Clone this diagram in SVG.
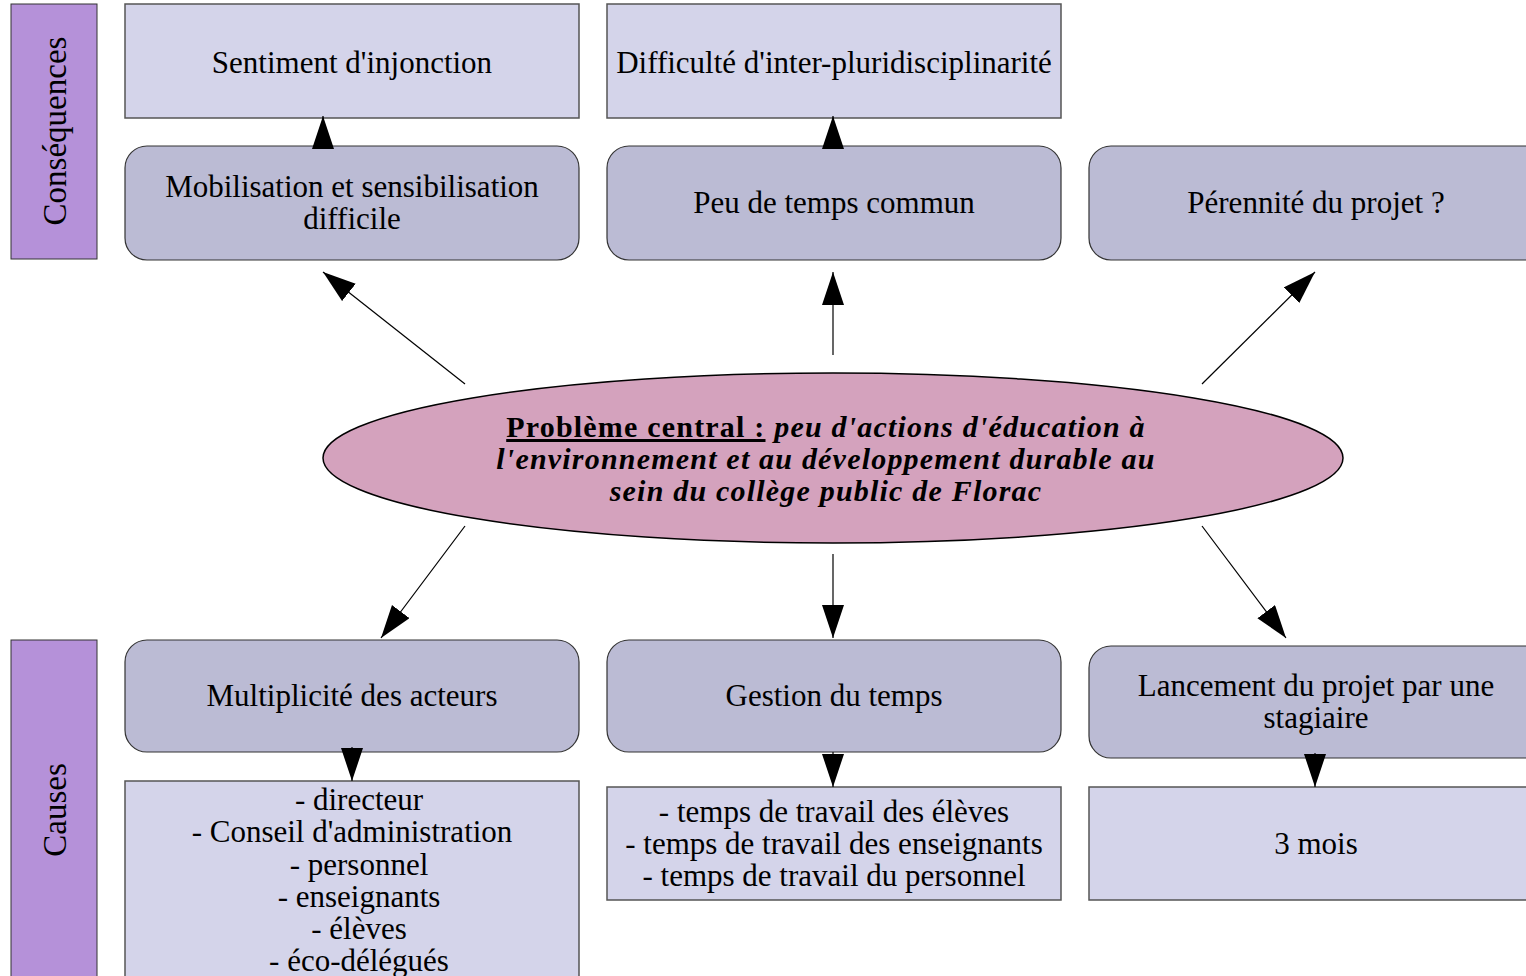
<svg xmlns="http://www.w3.org/2000/svg" width="1526" height="976" viewBox="0 0 1526 976">
<style>
text{font-family:"Liberation Serif","DejaVu Serif",serif;font-size:31px;fill:#000;text-anchor:middle}
.lbl{fill:#b591d9;stroke:#333;stroke-width:1}
.lt{font-size:33px}
.plain{fill:#d4d4ea;stroke:#555;stroke-width:1.5}
.round{fill:#bbbbd4;stroke:#333;stroke-width:1.2}
.cen{fill:#d4a2bd;stroke:#000;stroke-width:1.5}
.ct{font-weight:bold;font-style:italic;font-size:30px;letter-spacing:1.2px}
.conn line{stroke:#000;stroke-width:1.2;marker-end:url(#ah)}
</style>
<defs>
<marker id="ah" markerUnits="userSpaceOnUse" markerWidth="34" markerHeight="24" refX="33" refY="11" orient="auto" viewBox="0 0 34 24">
<path d="M0,0 L33,11 L0,22 z" fill="#000"/>
</marker>
</defs>
<rect width="1526" height="976" fill="#fff"/>

<g id="label-consequences">
<rect class="lbl" x="11" y="4" width="86" height="255"/>
<text class="lt" transform="translate(66,131) rotate(-90)">Conséquences</text>
</g>
<g id="label-causes">
<rect class="lbl" x="11" y="640" width="86" height="345"/>
<text class="lt" transform="translate(66,810) rotate(-90)">Causes</text>
</g>

<g id="sentiment">
<rect class="plain" x="125" y="4" width="454" height="114"/>
<text x="352" y="73">Sentiment d'injonction</text>
</g>
<g id="difficulte">
<rect class="plain" x="607" y="4" width="454" height="114"/>
<text x="834" y="73">Difficulté d'inter-pluridisciplinarité</text>
</g>

<g id="mobilisation">
<rect class="round" x="125" y="146" width="454" height="114" rx="22"/>
<text x="352" y="197">Mobilisation et sensibilisation</text>
<text x="352" y="229">difficile</text>
</g>
<g id="peu-temps">
<rect class="round" x="607" y="146" width="454" height="114" rx="22"/>
<text x="834" y="213">Peu de temps commun</text>
</g>
<g id="perennite">
<rect class="round" x="1089" y="146" width="460" height="114" rx="22"/>
<text x="1316" y="213">Pérennité du projet ?</text>
</g>

<g id="central">
<ellipse class="cen" cx="833" cy="458" rx="510" ry="85"/>
<text class="ct" x="826" y="437"><tspan style="font-style:normal;text-decoration:underline">Problème central :</tspan> peu d'actions d'éducation à</text>
<text class="ct" x="826" y="469">l'environnement et au développement durable au</text>
<text class="ct" x="826" y="501">sein du collège public de Florac</text>
</g>

<g id="multiplicite">
<rect class="round" x="125" y="640" width="454" height="112" rx="22"/>
<text x="352" y="706">Multiplicité des acteurs</text>
</g>
<g id="gestion">
<rect class="round" x="607" y="640" width="454" height="112" rx="22"/>
<text x="834" y="706">Gestion du temps</text>
</g>
<g id="lancement">
<rect class="round" x="1089" y="646" width="460" height="112" rx="22"/>
<text x="1316" y="696">Lancement du projet par une</text>
<text x="1316" y="728">stagiaire</text>
</g>

<g id="acteurs">
<rect class="plain" x="125" y="781" width="454" height="210"/>
<text x="359" y="810">- directeur</text>
<text x="352" y="842">- Conseil d'administration</text>
<text x="359" y="875">- personnel</text>
<text x="359" y="907">- enseignants</text>
<text x="359" y="939">- élèves</text>
<text x="359" y="971">- éco-délégués</text>
</g>
<g id="temps">
<rect class="plain" x="607" y="787" width="454" height="113"/>
<text x="834" y="822">- temps de travail des élèves</text>
<text x="834" y="854">- temps de travail des enseignants</text>
<text x="834" y="886">- temps de travail du personnel</text>
</g>
<g id="mois">
<rect class="plain" x="1089" y="787" width="460" height="113"/>
<text x="1316" y="854">3 mois</text>
</g>

<g id="connectors" class="conn">
<line x1="323" y1="148" x2="323" y2="116"/>
<line x1="833" y1="148" x2="833" y2="116"/>
<line x1="465" y1="384" x2="323" y2="272"/>
<line x1="833" y1="355" x2="833" y2="272"/>
<line x1="1202" y1="384" x2="1315" y2="272"/>
<line x1="465" y1="526" x2="381" y2="638"/>
<line x1="833" y1="554" x2="833" y2="638"/>
<line x1="1202" y1="526" x2="1286" y2="638"/>
<line x1="352" y1="747" x2="352" y2="781"/>
<line x1="833" y1="752" x2="833" y2="787"/>
<line x1="1315" y1="753" x2="1315" y2="787"/>
</g>
</svg>
